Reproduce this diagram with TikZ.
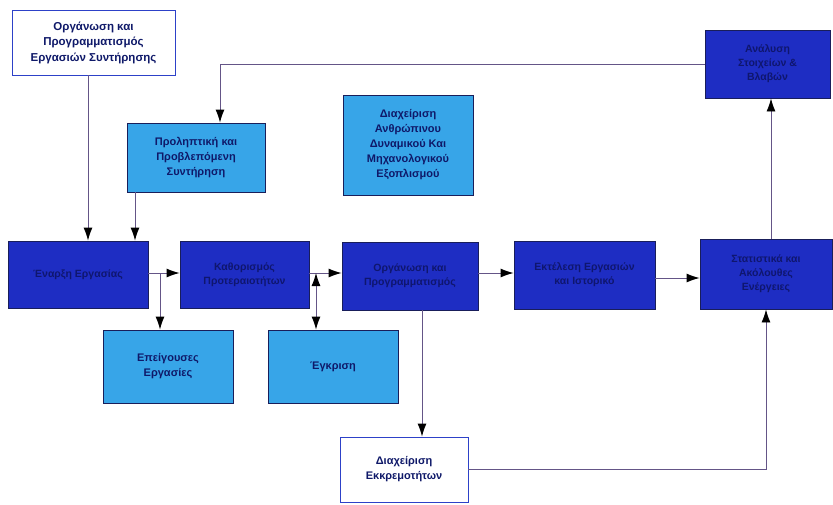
\documentclass[tikz,border=0pt]{standalone}
\usepackage{fontspec}
\setmainfont{Liberation Sans}
\usetikzlibrary{arrows.meta}
\definecolor{darkfill}{RGB}{30,45,195}
\definecolor{lightfill}{RGB}{55,165,232}
\definecolor{boxline}{RGB}{25,30,90}
\definecolor{navytext}{RGB}{15,25,105}
\definecolor{darktext}{RGB}{15,22,110}
\definecolor{wireline}{RGB}{100,85,135}
\definecolor{topline}{RGB}{45,65,200}
\begin{document}
\begin{tikzpicture}[x=1pt,y=-1pt,
  basebox/.style={draw=boxline,line width=0.9pt,align=center,inner sep=2pt,
    font=\fontsize{11}{15}\selectfont\bfseries},
  darkbox/.style={basebox,fill=darkfill,text=darktext,font=\fontsize{10.5}{14}\selectfont\bfseries},
  lightbox/.style={basebox,fill=lightfill,text=navytext},
  whitebox/.style={basebox,fill=white,draw=topline,text=navytext},
  wire/.style={draw=wireline,line width=0.9pt},
  tipa/.tip={Latex[length=13pt,width=9pt,color=black]},
  arr/.style={wire,-tipa},
  darr/.style={wire,tipa-tipa}]
\useasboundingbox (0,0) rectangle (833,504);
\fill[white] (0,0) rectangle (833,504);

\node[whitebox,minimum width=163pt,minimum height=65pt,font=\fontsize{11.5}{15.5}\selectfont\bfseries] (top) at (93.5,42.5)
  {Οργάνωση και\\Προγραμματισμός\\Εργασιών Συντήρησης};
\node[darkbox,minimum width=125pt,minimum height=68pt] (anal) at (767.5,64)
  {Ανάλυση\\Στοιχείων \&\\Βλαβών};
\node[lightbox,minimum width=138pt,minimum height=69pt] (prol) at (196,157.5)
  {Προληπτική και\\Προβλεπόμενη\\Συντήρηση};
\node[lightbox,minimum width=130pt,minimum height=100pt] (diax) at (408,145)
  {Διαχείριση\\Ανθρώπινου\\Δυναμικού Και\\Μηχανολογικού\\Εξοπλισμού};

\node[darkbox,minimum width=140pt,minimum height=67pt] (enar) at (78,274.5)
  {Έναρξη Εργασίας};
\node[darkbox,minimum width=129pt,minimum height=67pt] (kath) at (244.5,274.5)
  {Καθορισμός\\Προτεραιοτήτων};
\node[darkbox,minimum width=136pt,minimum height=68pt] (org) at (410,276)
  {Οργάνωση και\\Προγραμματισμός};
\node[darkbox,minimum width=141pt,minimum height=68pt] (ekt) at (584.5,275)
  {Εκτέλεση Εργασιών\\και Ιστορικό};
\node[darkbox,minimum width=132pt,minimum height=70pt] (stat) at (766,274)
  {Στατιστικά και\\Ακόλουθες\\Ενέργειες};

\node[lightbox,minimum width=130pt,minimum height=73pt] (epi) at (168,366.5)
  {Επείγουσες\\Εργασίες};
\node[lightbox,minimum width=130pt,minimum height=73pt] (egk) at (333,366.5)
  {Έγκριση};
\node[whitebox,minimum width=128pt,minimum height=65pt] (ekk) at (404,469.5)
  {Διαχείριση\\Εκκρεμοτήτων};

\coordinate (xa) at (88,0);
\coordinate (xb) at (135,0);
\coordinate (xc) at (220,0);
\coordinate (xd) at (160,0);
\coordinate (xe) at (316,0);
\coordinate (xf) at (422,0);
\coordinate (xg) at (766,0);
\coordinate (xh) at (771,0);
\coordinate (ya) at (0,273);
\coordinate (yb) at (0,278);

\draw[arr] (xa |- top.south) -- (xa |- enar.north);
\draw[arr] (xb |- prol.south) -- (xb |- enar.north);
\draw[arr] (anal.west) -| (xc |- prol.north);
\draw[arr] (enar.east |- ya) -- (kath.west |- ya);
\draw[arr] (xd |- ya) -- (xd |- epi.north);
\draw[arr] (kath.east |- ya) -- (org.west |- ya);
\draw[darr] (xe |- ya) -- (xe |- egk.north);
\draw[arr] (org.east |- ya) -- (ekt.west |- ya);
\draw[arr] (xf |- org.south) -- (xf |- ekk.north);
\draw[arr] (ekt.east |- yb) -- (stat.west |- yb);
\draw[arr] (ekk.east) -| (xg |- stat.south);
\draw[arr] (xh |- stat.north) -- (xh |- anal.south);
\end{tikzpicture}
\end{document}
